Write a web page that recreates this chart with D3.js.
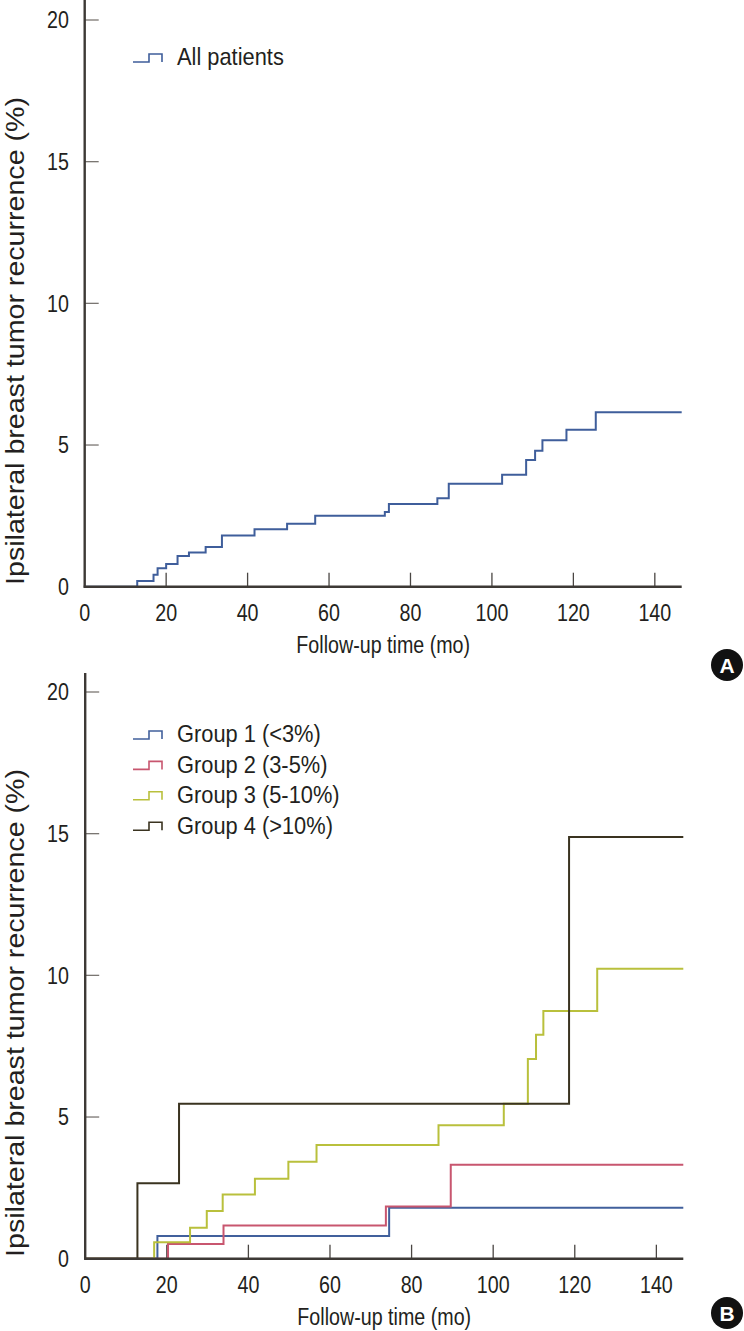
<!DOCTYPE html>
<html><head><meta charset="utf-8">
<script src="https://cdn.jsdelivr.net/npm/d3@7"></script>
<style>body{margin:0;background:#fff}svg{display:block}</style>
</head><body>
<svg id="c" width="744" height="1331"></svg>
<script>
const xTicks = [0, 20, 40, 60, 80, 100, 120, 140];
const yTicks = [0, 5, 10, 15, 20];
const xTitle = "Follow-up time (mo)";
const yTitle = "Ipsilateral breast tumor recurrence (%)";

const allTimes = [0, 12.9, 16.9, 17.9, 20.0, 22.8, 25.6, 29.7, 33.7, 41.7, 49.7, 56.6, 73.7, 74.7, 86.6, 89.4, 102.5, 108.4, 110.6, 112.4, 118.3, 125.5, 146.6];
const allValues = [0, 0.2, 0.42, 0.65, 0.8, 1.08, 1.21, 1.40, 1.81, 2.03, 2.22, 2.50, 2.64, 2.92, 3.12, 3.63, 3.95, 4.47, 4.80, 5.17, 5.54, 6.16, 6.16];

const groupNames = ["Group 1 (<3%)", "Group 2 (3-5%)", "Group 3 (5-10%)", "Group 4 (>10%)"];
const g1Times = [0, 17.7, 74.5, 146.6];
const g1Values = [0, 0.80, 1.80, 1.80];
const g2Times = [0, 20.3, 33.9, 73.7, 89.6, 146.6];
const g2Values = [0, 0.52, 1.17, 1.84, 3.32, 3.32];
const g3Times = [0, 16.9, 25.7, 29.8, 33.7, 41.6, 49.8, 56.7, 86.6, 102.6, 108.5, 110.5, 112.3, 125.5, 146.6];
const g3Values = [0, 0.58, 1.09, 1.68, 2.27, 2.82, 3.42, 4.01, 4.71, 5.47, 7.05, 7.9, 8.74, 10.23, 10.23];
const g4Times = [0, 12.8, 23.0, 118.6, 146.6];
const g4Values = [0, 2.66, 5.47, 14.88, 14.88];

const FONT = "'Liberation Sans', Arial, sans-serif";
const svg = d3.select("#c");

function label(g, x, y, str, anchor, opts) {
  const o = Object.assign({ fs: 24, sx: 0.82, rot: 0 }, opts || {});
  const t = g.append("g").attr("transform", `translate(${x},${y})` + (o.rot ? ` rotate(${o.rot})` : "") + ` scale(${o.sx},1)`);
  t.append("text").attr("x", 0).attr("y", 0).attr("dy", "0.35em")
    .attr("text-anchor", anchor).attr("font-family", FONT).attr("font-size", o.fs)
    .attr("fill", "#231f20").text(str);
}

function panel(cfg) {
  const g = svg.append("g");
  const x = d3.scaleLinear().domain([0, 146.6]).range([cfg.x0, cfg.x1]);
  const y = d3.scaleLinear().domain([0, 20]).range([cfg.y0, cfg.y20]);
  // ticks (inward)
  g.selectAll(".yt").data(yTicks.filter(d => d > 0)).enter().append("line")
    .attr("x1", cfg.x0).attr("x2", cfg.x0 + 14).attr("y1", d => y(d)).attr("y2", d => y(d))
    .attr("stroke", "#7a7672").attr("stroke-width", 1.3);
  g.selectAll(".xt").data(xTicks.filter(d => d > 0)).enter().append("line")
    .attr("x1", d => x(d)).attr("x2", d => x(d)).attr("y1", cfg.y0).attr("y2", cfg.y0 - 14)
    .attr("stroke", "#4a4643").attr("stroke-width", 1.3);
  // tick labels
  yTicks.forEach(d => label(g, 69, y(d), String(d), "end"));
  xTicks.forEach(d => label(g, x(d), cfg.y0 + 26, String(d), "middle"));
  label(g, (cfg.x0 + cfg.x1) / 2, cfg.y0 + 58, xTitle, "middle");
  label(g, 15, cfg.titleY, yTitle, "middle", { rot: -90, fs: 26, sx: 1.1 });
  // curves
  const line = d3.line().x(d => x(d[0])).y(d => y(d[1])).curve(d3.curveStepAfter);
  cfg.series.forEach(s => {
    g.append("path").datum(d3.zip(s.t, s.v)).attr("d", line)
      .attr("fill", "none").attr("stroke", s.color).attr("stroke-width", 2);
  });
  // axes
  g.append("line").attr("x1", cfg.x0).attr("x2", cfg.x0).attr("y1", cfg.yTop).attr("y2", cfg.y0 + 1)
    .attr("stroke", "#3d3935").attr("stroke-width", 2.4);
  g.append("line").attr("x1", cfg.x0 - 1).attr("x2", cfg.x1).attr("y1", cfg.y0).attr("y2", cfg.y0)
    .attr("stroke", "#3d3935").attr("stroke-width", 2.4);
  // legend
  cfg.series.forEach((s, i) => {
    const ly = cfg.legY + i * 30.4;
    g.append("path").attr("d", `M133,${ly + 5}H149V${ly - 3}H162V${ly + 5}`)
      .attr("fill", "none").attr("stroke", s.color).attr("stroke-width", 1.6);
    label(g, 177, ly, s.name, "start", { sx: 0.91 });
  });
  // panel badge
  g.append("circle").attr("cx", 727).attr("cy", cfg.badgeY).attr("r", 16).attr("fill", "#111");
  g.append("text").attr("x", 727).attr("y", cfg.badgeY).attr("dy", "0.36em").attr("text-anchor", "middle")
    .attr("font-family", FONT).attr("font-weight", "bold").attr("font-size", 21).attr("fill", "#fff").text(cfg.badge);
}

panel({
  x0: 84.7, x1: 681.7, y0: 586.7, y20: 20, yTop: 0, titleY: 341, legY: 57, badgeY: 665, badge: "A",
  series: [{ name: "All patients", t: allTimes, v: allValues, color: "#3f5e9b" }]
});

panel({
  x0: 85.2, x1: 683.3, y0: 1258.7, y20: 692, yTop: 673, titleY: 1013, legY: 734, badgeY: 1313, badge: "B",
  series: [
    { name: groupNames[0], t: g1Times, v: g1Values, color: "#41609c" },
    { name: groupNames[1], t: g2Times, v: g2Values, color: "#c8566f" },
    { name: groupNames[2], t: g3Times, v: g3Values, color: "#b9c03c" },
    { name: groupNames[3], t: g4Times, v: g4Values, color: "#3a3320" }
  ]
});
</script>
</body></html>
